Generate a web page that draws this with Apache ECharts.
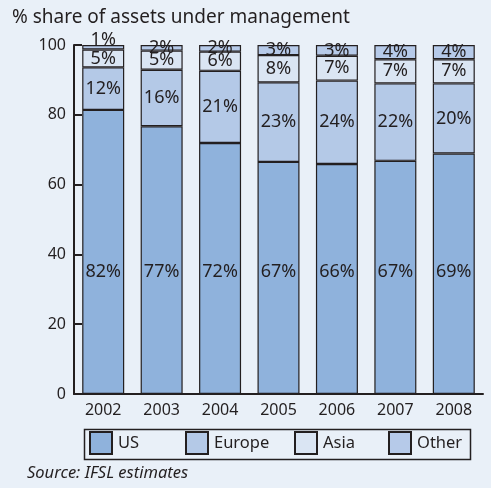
<!DOCTYPE html>
<html><head><meta charset="utf-8">
<script src="https://cdn.jsdelivr.net/npm/echarts@6/dist/echarts.min.js"></script>
<style>html,body{margin:0;padding:0;background:#e9f0f8;}#c{width:491px;height:488px;}</style>
</head><body><div id="c"></div>
<script>
const years = ['2002','2003','2004','2005','2006','2007','2008'];
const usValues = [81.4, 76.7, 71.9, 66.5, 65.9, 66.8, 68.9];
const europeValues = [12.2, 16.2, 20.7, 22.8, 23.9, 22.2, 20.1];
const asiaValues = [5.1, 5.5, 5.5, 7.8, 7.1, 6.9, 6.9];
const otherValues = [1.3, 1.6, 1.9, 2.9, 3.1, 4.1, 4.1];
const usLabels = ['82%','77%','72%','67%','66%','67%','69%'];
const europeLabels = ['12%','16%','21%','23%','24%','22%','20%'];
const asiaLabels = ['5%','5%','6%','8%','7%','7%','7%'];
const otherLabels = ['1%','2%','2%','3%','3%','4%','4%'];
const yTicks = [0, 20, 40, 60, 80, 100];

const FONT = 'Noto Sans';
const INK = '#231f20';
const colors = {US:'#8fb2dc', Europe:'#b4c9e7', Asia:'#dae5f3', Other:'#b6cae9'};

function mk(name, vals, labels, labelPos) {
  return {
    name, type:'bar', stack:'total', barWidth:42,
    itemStyle:{color:colors[name], borderColor:INK, borderWidth:1.2},
    data: vals.map((v,i)=>{
      const d = {value:v, label:{formatter:labels[i]}};
      if (name==='Other' && i===0) d.label.position='top', d.label.distance=-4;
      return d;
    }),
    label:Object.assign({show:true, color:INK, fontFamily:FONT, fontSize:18}, labelPos),
    emphasis:{disabled:true}, animation:false
  };
}

const chart = echarts.init(document.getElementById('c'), null, {renderer:'canvas'});
const legendNames = ['US','Europe','Asia','Other'];
const legendLefts = [89, 185, 294, 388];
chart.setOption({
  backgroundColor:'#e9f0f8',
  animation:false,
  title:{text:'% share of assets under management', left:7, top:3,
    textStyle:{fontFamily:FONT, fontSize:19, fontWeight:'normal', color:INK}},
  grid:{left:74, right:8, top:45, bottom:94},
  xAxis:{type:'category', data:years,
    axisLine:{lineStyle:{color:INK, width:2}},
    axisTick:{inside:true, length:7, lineStyle:{color:INK, width:2}},
    axisLabel:{color:INK, fontFamily:FONT, fontSize:16, margin:8}},
  yAxis:{type:'value', min:0, max:100, interval:20,
    axisLine:{show:true, lineStyle:{color:INK, width:2}},
    axisTick:{show:true, inside:true, length:8, lineStyle:{color:INK, width:2}},
    splitLine:{show:false},
    axisLabel:{color:INK, fontFamily:FONT, fontSize:16, margin:8,
      formatter:v=>yTicks.includes(v)?String(v):''}},
  legend: legendNames.map((n,i)=>({
    data:[n], left:legendLefts[i], top:431, itemWidth:22, itemHeight:22, itemGap:0,
    icon:'rect', padding:0,
    textStyle:{color:INK, fontFamily:FONT, fontSize:16.5, padding:[0,0,0,1]},
    selectedMode:false})),
  graphic:[
    {type:'rect', left:82, top:427, shape:{width:386, height:30},
      style:{fill:'none', stroke:INK, lineWidth:1.5}, z:-1},
    {type:'text', left:27, top:465, style:{text:'Source: IFSL estimates',
      font:'italic 16.5px '+FONT, fill:INK}}
  ],
  series:[
    mk('US', usValues, usLabels, {position:'insideBottom', distance:113}),
    mk('Europe', europeValues, europeLabels, {position:'inside'}),
    mk('Asia', asiaValues, asiaLabels, {position:'inside'}),
    mk('Other', otherValues, otherLabels, {position:'inside'})
  ]
});
</script></body></html>
